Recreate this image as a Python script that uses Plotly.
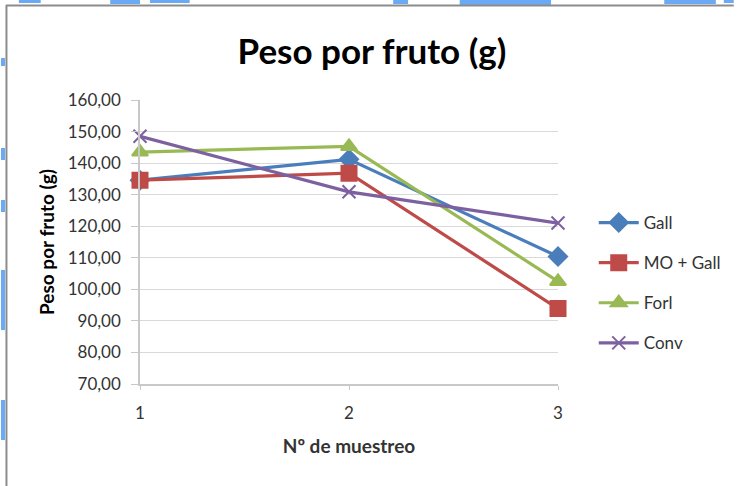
import plotly.graph_objects as go

muestreo = [1, 2, 3]
series_names = ["Gall", "MO + Gall", "Forl", "Conv"]
gall = [134.6, 141.2, 110.4]
mo_gall = [134.6, 136.8, 93.9]
forl = [143.5, 145.3, 102.5]
conv = [148.5, 130.9, 121.0]
y_ticks = [70, 80, 90, 100, 110, 120, 130, 140, 150, 160]

colors = ["#4a7ebb", "#be4b48", "#98b954", "#7d60a0"]
symbols = ["diamond", "square", "triangle-up", "x-thin-open"]
sizes = [14, 15, 14, 13]
values = [gall, mo_gall, forl, conv]

FONT = "Lato, 'Open Sans', sans-serif"

fig = go.Figure()
for i, (name, vals) in enumerate(zip(series_names, values)):
    fig.add_trace(go.Scatter(
        x=muestreo, y=vals, name=name, mode="lines+markers",
        line=dict(color=colors[i], width=3.2),
        marker=dict(symbol=symbols[i], size=sizes[i], color=colors[i],
                    line=dict(color=colors[i], width=2)),
        legendgroup=name, cliponaxis=False,
    ))

L, R, T, B = 140, 177, 100, 102
W, H = 738, 486
pw, ph = W - L - R, H - T - B

def px(x):
    return (x - L) / pw

def py(y):
    return (H - B - y) / ph

shapes = []
blue = "#6aaaf5"
for x0, x1, y1 in [(18, 40, 3), (110, 140, 4), (150, 190, 3), (395, 410, 4), (462, 554, 5), (668, 720, 4), (728, 738, 3)]:
    shapes.append(dict(type="rect", xref="paper", yref="paper", x0=px(x0), x1=px(x1),
                       y0=py(y1), y1=py(0), fillcolor=blue, line_width=0, layer="below"))
for y0, y1 in [(58, 66), (148, 160), (200, 212), (270, 330), (400, 440)]:
    shapes.append(dict(type="rect", xref="paper", yref="paper", x0=px(0), x1=px(4),
                       y0=py(y1), y1=py(y0), fillcolor=blue, line_width=0, layer="below"))
shapes.append(dict(type="line", xref="paper", yref="paper", x0=px(5), x1=px(738),
                   y0=py(5.5), y1=py(5.5), line=dict(color="#8c8c8c", width=2)))
shapes.append(dict(type="line", xref="paper", yref="paper", x0=px(5.5), x1=px(5.5),
                   y0=py(5), y1=py(486), line=dict(color="#8c8c8c", width=2)))

fig.update_layout(
    width=W, height=H,
    margin=dict(l=L, r=R, t=T, b=B),
    paper_bgcolor="white", plot_bgcolor="white",
    separators=",.",
    font=dict(family=FONT, color="#333333", size=17),
    title=dict(text="<b>Peso por fruto (g)</b>", xref="container", x=372 / W, xanchor="center",
               yref="container", y=1 - 52 / H, yanchor="middle",
               font=dict(family=FONT, size=35, color="#000000")),
    showlegend=True,
    legend=dict(x=px(597), y=py(205), xanchor="left", yanchor="top",
                font=dict(family=FONT, size=17, color="#333333"),
                itemwidth=40, tracegroupgap=15, traceorder="grouped",
                bgcolor="rgba(0,0,0,0)"),
    shapes=shapes,
    xaxis=dict(range=[1, 3], tickvals=muestreo, ticktext=[str(v) for v in muestreo],
               showgrid=False, zeroline=False, showline=True, linecolor="#c8c8c8",
               linewidth=1.5, ticks="outside", ticklen=4, tickcolor="#c8c8c8",
               ticklabelstandoff=9,
               tickfont=dict(family=FONT, size=17, color="#333333"),
               title=dict(text="<b>Nº de muestreo</b>", standoff=18,
                          font=dict(family=FONT, size=19, color="#333333"))),
    yaxis=dict(range=[70, 160], tickvals=y_ticks, tickformat=".2f",
               showgrid=True, gridcolor="#d9d9d9", gridwidth=1.2, zeroline=False,
               showline=True, linecolor="#c8c8c8", linewidth=1.5,
               ticks="outside", ticklen=7, tickcolor="#c8c8c8",
               ticklabelstandoff=7,
               tickfont=dict(family=FONT, size=17, color="#333333"),
               title=dict(text="<b>Peso por fruto (g)</b>", standoff=8,
                          font=dict(family=FONT, size=19, color="#000000"))),
)

fig.write_html("out.html", config={"displayModeBar": False},
               post_script="document.body.style.margin='0';")
